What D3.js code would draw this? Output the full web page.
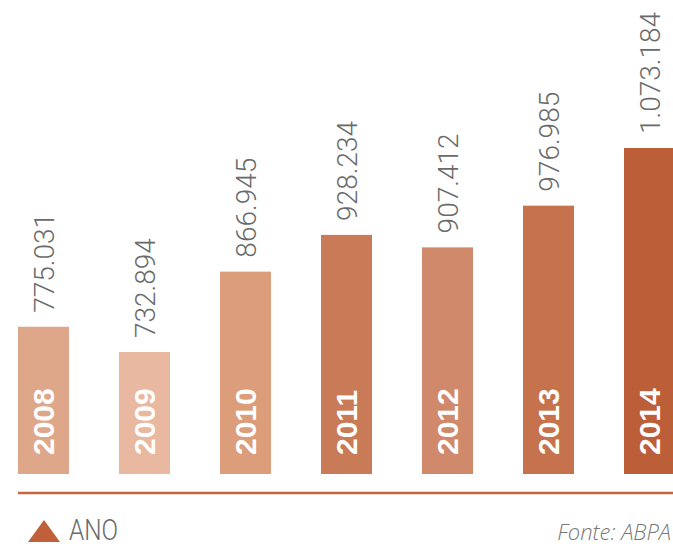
<!DOCTYPE html>
<html>
<head>
<meta charset="utf-8">
<script src="https://cdn.jsdelivr.net/npm/d3@7"></script>
<style>
  body { margin: 0; background: #fff; }
  svg { display: block; }
</style>
</head>
<body>
<div id="chartArea"></div>
<script>
// ABPA - bar chart, values per year

var years  = ['2008', '2009', '2010', '2011', '2012', '2013', '2014'];
var values = [775031, 732894, 866945, 928234, 907412, 976985, 1073184];
var labels = ['775.031', '732.894', '866.945', '928.234', '907.412', '976.985', '1.073.184'];
var colors = ['#dfa78a', '#e8b8a0', '#dc9d7b', '#c97a57', '#d0896a', '#c6724d', '#bc5e37'];

var width = 673,
    height = 547;

var svg = d3.select('#chartArea').append('svg')
    .attr('width', width)
    .attr('height', height);

// x - one band per year
var x = d3.scaleBand()
    .domain(years)
    .range([18, 675])
    .paddingInner(0.495)
    .paddingOuter(0);

// y - the axis does not start at zero in the original
var y = d3.scaleLinear()
    .domain([529400, 1073184])
    .range([474, 148]);

var data = years.map(function(d, i) {
    return {year: d, value: values[i], label: labels[i], color: colors[i]};
});

// bars
svg.selectAll('.bar')
    .data(data)
    .enter().append('rect')
    .attr('class', 'bar')
    .attr('x', function(d) { return x(d.year); })
    .attr('width', x.bandwidth())
    .attr('y', function(d) { return y(d.value); })
    .attr('height', function(d) { return y.range()[0] - y(d.value); })
    .attr('fill', function(d) { return d.color; });

// value labels above the bars
svg.selectAll('.val')
    .data(data)
    .enter().append('text')
    .attr('class', 'val')
    .attr('transform', function(d) {
        return 'translate(' + (x(d.year) + x.bandwidth() / 2) + ',' + (y(d.value) - 14) + ')rotate(-90)';
    })
    .attr('dy', '0.36em')
    .attr('font-family', 'Roboto, sans-serif')
    .attr('font-weight', 300)
    .attr('font-size', '28px')
    .attr('fill', '#6a6a6a')
    .text(function(d) { return d.label; });

// year inside the bars
svg.selectAll('.yr')
    .data(data)
    .enter().append('text')
    .attr('class', 'yr')
    .attr('transform', function(d) {
        return 'translate(' + (x(d.year) + x.bandwidth() / 2) + ',455)rotate(-90)';
    })
    .attr('dy', '0.36em')
    .attr('font-family', '"Liberation Sans", Arial, sans-serif')
    .attr('font-weight', 'bold')
    .attr('font-size', '30px')
    .attr('fill', '#fff')
    .text(function(d) { return d.year; });

// baseline
svg.append('line')
    .attr('x1', 18).attr('x2', width)
    .attr('y1', 493).attr('y2', 493)
    .attr('stroke', '#c8643f')
    .attr('stroke-width', 2.5);

// legend
svg.append('path')
    .attr('d', 'M28,542L44,520L60,542Z')
    .attr('fill', '#c0603a');
// condensed look: squeeze a light font to the original width
svg.append('text')
    .attr('x', 69).attr('y', 540)
    .attr('textLength', 49)
    .attr('lengthAdjust', 'spacingAndGlyphs')
    .attr('font-family', 'Roboto, sans-serif')
    .attr('font-weight', 300)
    .attr('font-size', '30px')
    .attr('fill', '#6a6a6a')
    .text('ANO');

svg.append('text')
    .attr('x', 671).attr('y', 540)
    .attr('text-anchor', 'end')
    .attr('font-family', '"Open Sans", sans-serif')
    .attr('font-style', 'italic')
    .attr('font-weight', 300)
    .attr('font-size', '22px')
    .attr('fill', '#777')
    .text('Fonte: ABPA');
</script>
</body>
</html>
